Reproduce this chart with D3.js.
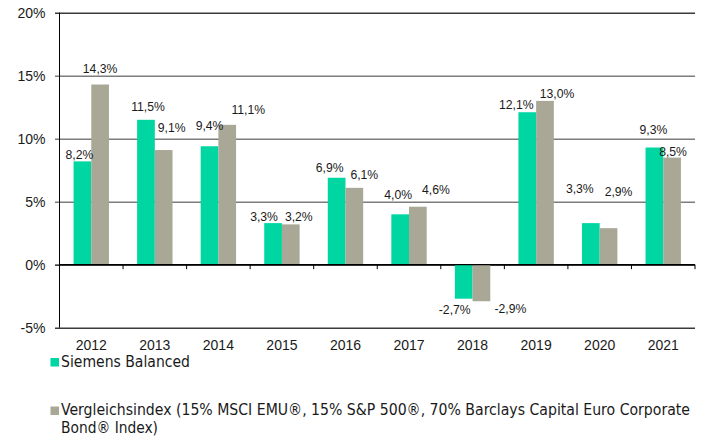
<!DOCTYPE html>
<html>
<head>
<meta charset="utf-8">
<script src="https://cdn.jsdelivr.net/npm/d3@7/dist/d3.min.js"></script>
<style>
  body { margin: 0; background: #fff; }
  svg { display: block; }
  svg text { font-family: "Liberation Sans", Arial, sans-serif; }
</style>
</head>
<body>
<div id="chart"></div>
<script>
// data
var years = ["2012", "2013", "2014", "2015", "2016", "2017", "2018", "2019", "2020", "2021"];
var fundValues = [8.2, 11.5, 9.4, 3.3, 6.9, 4.0, -2.7, 12.1, 3.3, 9.3];
var indexValues = [14.3, 9.1, 11.1, 3.2, 6.1, 4.6, -2.9, 13.0, 2.9, 8.5];
var yTicks = [-5, 0, 5, 10, 15, 20];
var seriesNames = ["Siemens Balanced",
  "Vergleichsindex (15% MSCI EMU®, 15% S&P 500®, 70% Barclays Capital Euro Corporate",
  "Bond® Index)"];

// hand-placed label nudges (the original labels were dragged around)
var fundLabelDx = [-3, 2, 0, -9, -7, -2, -9, -11, -11, -1];
var fundLabelDy = [-2, -9, -16, -2, -6, -15, 15, -3, -30, -14];
var indexLabelDx = [0, 8, 21, 8, 10, 18, 29, 12, 10, 1];
var indexLabelDy = [-12, -18, -11, -3, -9, -13, 12, -3, -32, -2];

var green = "#00d6a1", grey = "#a9a897";

var W = 701, H = 437;
var plotLeft = 59.5, plotRight = 695, plotTop = 12.7, plotBottom = 327.7;

var svg = d3.select("#chart").append("svg")
    .attr("width", W)
    .attr("height", H);

var x = d3.scaleBand()
    .domain(years)
    .range([plotLeft, plotRight])
    .paddingInner(0.443)
    .paddingOuter(0.2215);

var sub = d3.scaleBand()
    .domain(["fund", "index"])
    .range([0, x.bandwidth()]);

var y = d3.scaleLinear()
    .domain([-5, 20])
    .range([plotBottom, plotTop]);

// gridlines + y labels
var yAxis = d3.axisLeft(y)
    .tickValues(yTicks)
    .tickSize(-(plotRight - plotLeft + 4.5))
    .tickPadding(9.5)
    .tickFormat(function(d) { return d + "%"; });

var gy = svg.append("g")
    .attr("transform", "translate(" + (plotLeft - 4.5) + ",0)")
    .call(yAxis)
    .attr("font-family", null);
gy.select(".domain").remove();
gy.selectAll("line")
    .attr("stroke", function(d) { return (d == 20 || d == -5) ? "#3a3a3a" : (d == 0 ? "#000" : "#7d7d7d"); })
    .attr("stroke-width", function(d) { return d == 0 ? 1.2 : 1.6; });
gy.selectAll("text")
    .attr("font-size", 14)
    .attr("fill", "#1a1a1a");

var rows = years.map(function(yr, i) {
  return [
    {year: yr, key: "fund", value: fundValues[i], dx: fundLabelDx[i], dy: fundLabelDy[i]},
    {year: yr, key: "index", value: indexValues[i], dx: indexLabelDx[i], dy: indexLabelDy[i]}
  ];
});
var flat = d3.merge(rows);

// bars
svg.append("g").selectAll("rect")
    .data(flat)
    .enter().append("rect")
    .attr("x", function(d) { return x(d.year) + sub(d.key); })
    .attr("y", function(d) { return y(Math.max(0, d.value)); })
    .attr("width", sub.bandwidth())
    .attr("height", function(d) { return Math.abs(y(d.value) - y(0)); })
    .attr("fill", function(d) { return d.key == "fund" ? green : grey; });

// zero axis with category ticks
var gx0 = svg.append("g")
    .attr("transform", "translate(0," + y(0) + ")");
gx0.selectAll("line.tick")
    .data(years)
    .enter().append("line")
    .attr("class", "tick")
    .attr("x1", function(d) { return x(d) - x.step() * x.paddingOuter() + x.step(); })
    .attr("x2", function(d) { return x(d) - x.step() * x.paddingOuter() + x.step(); })
    .attr("y1", 0)
    .attr("y2", 4.5)
    .attr("stroke", "#000");
gx0.append("line")
    .attr("x1", plotLeft).attr("x2", plotRight)
    .attr("stroke", "#000").attr("stroke-width", 1.2);

// left axis line
svg.append("line")
    .attr("x1", plotLeft).attr("x2", plotLeft)
    .attr("y1", plotTop).attr("y2", plotBottom)
    .attr("stroke", "#000");

// year labels
var xAxis = d3.axisBottom(x).tickSize(0).tickPadding(12.3);
var gx = svg.append("g")
    .attr("transform", "translate(0," + plotBottom + ")")
    .call(xAxis)
    .attr("font-family", null);
gx.select(".domain").remove();
gx.selectAll("text").attr("font-size", 14).attr("fill", "#1a1a1a");

// value labels (german decimal comma, plain hyphen for minus)
function pct(v) {
  return d3.format(".1f")(v).replace(".", ",").replace("\u2212", "-") + "%";
}
svg.append("g").selectAll("text")
    .data(flat)
    .enter().append("text")
    .attr("x", function(d) { return x(d.year) + sub(d.key) + sub.bandwidth() / 2 + d.dx; })
    .attr("y", function(d) { return y(d.value) + d.dy; })
    .attr("text-anchor", "middle")
    .attr("font-size", 12.2)
    .attr("fill", "#1a1a1a")
    .text(function(d) { return pct(d.value); });

// legend
var legendFont = '"Liberation Sans Narrow", "DejaVu Sans Condensed", "Open Sans", sans-serif';
var lg = svg.append("g");
lg.append("rect").attr("x", 50.5).attr("y", 358).attr("width", 8.5).attr("height", 8.5).attr("fill", green);
lg.append("rect").attr("x", 50.5).attr("y", 406.5).attr("width", 8.5).attr("height", 8.5).attr("fill", grey);
var legendRows = [
  {t: seriesNames[0], y: 366.5, w: 129},
  {t: seriesNames[1], y: 415, w: 629},
  {t: seriesNames[2], y: 433, w: 97}
];
lg.selectAll("text")
    .data(legendRows)
    .enter().append("text")
    .attr("x", 61)
    .attr("y", function(d) { return d.y; })
    .style("font-family", legendFont)
    .attr("font-size", 15)
    .attr("fill", "#1a1a1a")
    .attr("textLength", function(d) { return d.w; })
    .attr("lengthAdjust", "spacingAndGlyphs")
    .text(function(d) { return d.t; });
</script>
</body>
</html>
